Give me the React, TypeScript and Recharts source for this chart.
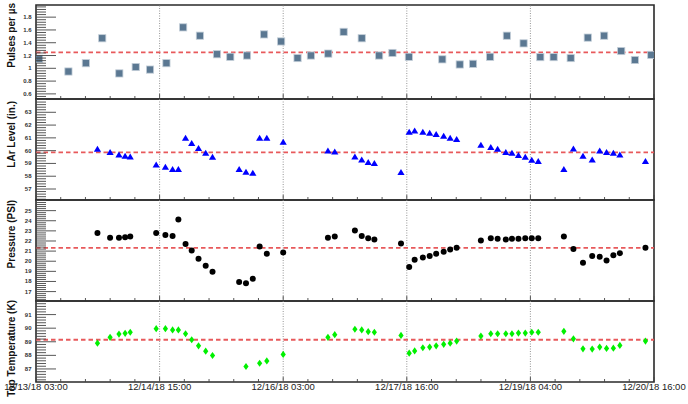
import React from 'react';
import { ScatterChart, Scatter, XAxis, YAxis, ReferenceLine, ReferenceArea } from 'recharts';

// time axis: hours since 12/13/18 03:00
const timeTicks = [0, 36.2, 72.4, 108.6, 144.8, 181];
const timeLabels = [
  '12/13/18 03:00',
  '12/14/18 15:00',
  '12/16/18 03:00',
  '12/17/18 16:00',
  '12/19/18 04:00',
  '12/20/18 16:00',
];

const pulseTimes = [
  0.9, 9.5, 14.6, 19.4, 24.4, 29.2, 33.4, 38.2, 43.1, 48.0, 53.0, 56.9, 61.8, 66.8, 71.8, 76.6, 80.5, 85.6,
  90.1, 95.4, 100.5, 104.4, 109.2, 119.0, 124.1, 128.0, 133.0, 137.9, 142.8, 147.7, 151.6, 156.6, 161.6,
  166.4, 171.4, 175.4, 180.2,
];
const pulseValues = [
  1.15, 0.95, 1.08, 1.47, 0.92, 1.02, 0.98, 1.08, 1.64, 1.51, 1.22, 1.18, 1.2, 1.53, 1.42, 1.16, 1.2, 1.23,
  1.57, 1.47, 1.2, 1.24, 1.18, 1.14, 1.06, 1.07, 1.18, 1.51, 1.39, 1.175, 1.175, 1.16, 1.48, 1.51, 1.27,
  1.13, 1.21,
];

// slow control readings (LAr level, pressure, temperature share timestamps)
const slowTimes = [
  18.0, 21.7, 24.3, 26.1, 27.6, 35.2, 37.9, 40.0, 41.7, 43.8, 45.6, 47.6, 49.7, 51.7, 59.5, 61.5, 63.5,
  65.5, 67.6, 72.4, 85.5, 87.5, 93.4, 95.4, 97.3, 99.1, 106.9, 109.3, 110.9, 113.3, 115.3, 117.2, 119.4,
  121.3, 123.2, 130.3, 133.2, 135.2, 137.6, 139.4, 141.3, 143.3, 145.2, 147.1, 154.6, 157.4, 160.2, 162.9,
  165.1, 167.1, 169.1, 171.0, 178.5,
];
const larValues = [
  60.13, 59.87, 59.69, 59.59, 59.53, 58.9, 58.73, 58.55, 58.55, 60.99, 60.58, 60.19, 59.82, 59.51, 58.55,
  58.34, 58.26, 60.99, 60.99, 60.68, 60.0, 59.92, 59.53, 59.3, 59.09, 59.01, 58.31, 61.46, 61.56, 61.46,
  61.38, 61.28, 61.15, 60.99, 60.89, 60.45, 60.27, 60.13, 59.87, 59.82, 59.64, 59.51, 59.27, 59.17, 58.55,
  60.16, 59.59, 59.3, 60.0, 59.87, 59.82, 59.69, 59.17,
];
const pressureValues = [
  22.8, 22.31, 22.31, 22.38, 22.45, 22.8, 22.6, 22.5, 24.12, 21.69, 21.07, 20.24, 19.55, 18.96, 17.95,
  17.82, 18.27, 21.46, 20.74, 20.87, 22.31, 22.45, 23.04, 22.5, 22.28, 22.15, 21.76, 19.43, 20.14, 20.38,
  20.51, 20.74, 20.93, 21.17, 21.32, 22.05, 22.28, 22.21, 22.15, 22.21, 22.21, 22.28, 22.28, 22.28, 22.45,
  21.2, 19.85, 20.51, 20.44, 20.08, 20.58, 20.8, 21.32,
];
const tempValues = [
  88.9, 89.33, 89.57, 89.62, 89.7, 89.96, 89.96, 89.87, 89.87, 89.59, 89.15, 88.7, 88.31, 87.99, null,
  87.18, null, 87.42, 87.59, 88.07, 89.33, 89.52, 89.92, 89.87, 89.74, 89.7, 89.47, 88.16, 88.33, 88.56,
  88.61, 88.7, 88.81, 88.9, 89.05, 89.42, 89.59, 89.59, 89.59, 89.59, 89.64, 89.64, 89.7, 89.7, 89.77,
  89.22, 88.48, 88.46, 88.61, 88.51, 88.53, 88.73, 89.05,
];

const pulseTicks = [0.6, 0.8, 1, 1.2, 1.4, 1.6, 1.8];
const larTicks = [57, 58, 59, 60, 61, 62, 63];
const pressureTicks = [17, 18, 19, 20, 21, 22, 23, 24, 25];
const tempTicks = [87, 88, 89, 90, 91];

const pulseMean = 1.25;
const larMean = 59.87;
const pressureMean = 21.32;
const tempMean = 89.15;

const W = 688;
const LEFT = 36;
const RIGHT = 654;
const PAD = 6;
const X_MAX = 181;
const FONT = 'Liberation Sans, Arial, Helvetica, sans-serif';

const stepTicks = (min: number, max: number, step: number) => {
  const out: number[] = [];
  for (let k = Math.ceil(min / step - 1e-9); k * step <= max + 1e-9; k++) out.push(+(k * step).toFixed(6));
  return out;
};

const xAllTicks = stepTicks(0, X_MAX, timeTicks[1] / 5);

const toPoints = (times: number[], values: (number | null)[]) =>
  times.map((t, i) => ({ t, v: values[i] })).filter((p) => p.v !== null);

const makeYTick = (majors: number[]) => (props: any) => {
  const { x, y, payload } = props;
  const v = payload.value;
  const major = majors.some((m) => Math.abs(m - v) < 1e-6);
  return (
    <g>
      <line x1={x} x2={x + (major ? 20 : 10)} y1={y} y2={y} stroke="#444" strokeWidth={0.9} />
      {major && (
        <text x={x - 4.5} y={y} textAnchor="end" dominantBaseline="central" fontSize={6} fontWeight="bold" fill="#333" fontFamily={FONT}>
          {String(v)}
        </text>
      )}
    </g>
  );
};

const makeXTick = (showLabels: boolean) => (props: any) => {
  const { x, y, payload } = props;
  const idx = timeTicks.findIndex((t) => Math.abs(t - payload.value) < 1e-6);
  const major = idx >= 0;
  return (
    <g>
      <line x1={x} x2={x} y1={y} y2={y - (major ? 5 : 3)} stroke="#444" strokeWidth={0.9} />
      {showLabels && major && (
        <text x={x} y={y + 8} textAnchor="middle" fontSize={9.5} fill="#222" fontFamily={FONT}>
          {timeLabels[idx]}
        </text>
      )}
    </g>
  );
};

const Square = (p: any) => (
  <rect x={p.cx - 3.6} y={p.cy - 3.6} width={7.2} height={7.2} fill="#5b7892" stroke="#c3ced8" strokeWidth={0.8} />
);
const Triangle = (p: any) => (
  <polygon points={`${p.cx},${p.cy - 3.2} ${p.cx + 3.6},${p.cy + 2.8} ${p.cx - 3.6},${p.cy + 2.8}`} fill="#0000ff" />
);
const Dot = (p: any) => <circle cx={p.cx} cy={p.cy} r={3} fill="#000" />;
const Diamond = (p: any) => (
  <polygon points={`${p.cx},${p.cy - 3.6} ${p.cx + 2.6},${p.cy} ${p.cx},${p.cy + 3.6} ${p.cx - 2.6},${p.cy}`} fill="#00f000" />
);

interface PanelProps {
  top: number;
  bottom: number;
  data: { t: number; v: number | null }[];
  domain: [number, number];
  majors: number[];
  minorStep: number;
  mean: number;
  shape: (p: any) => React.ReactElement;
  showTime?: boolean;
}

const Panel: React.FC<PanelProps> = ({ top, bottom, data, domain, majors, minorStep, mean, shape, showTime }) => {
  const mb = showTime ? 22 : PAD;
  const height = bottom - top + PAD + mb;
  return (
    <div style={{ position: 'absolute', left: 0, top: top - PAD }}>
      <ScatterChart width={W} height={height} margin={{ top: PAD, right: W - RIGHT, bottom: mb - 1, left: LEFT - 1 }}>
        <XAxis
          type="number"
          dataKey="t"
          domain={[0, X_MAX]}
          allowDataOverflow
          ticks={xAllTicks}
          interval={0}
          height={1}
          axisLine={false}
          tickLine={false}
          tickSize={0}
          tickMargin={0}
          tick={makeXTick(!!showTime)}
        />
        <YAxis
          type="number"
          dataKey="v"
          domain={domain}
          allowDataOverflow
          ticks={stepTicks(domain[0], domain[1], minorStep)}
          interval={0}
          width={1}
          axisLine={false}
          tickLine={false}
          tickSize={0}
          tickMargin={0}
          tick={makeYTick(majors)}
        />
        {timeTicks.slice(1, -1).map((t) => (
          <ReferenceLine key={t} x={t} stroke="#8a8a8a" strokeWidth={0.9} strokeDasharray="1 1.5" />
        ))}
        <ReferenceLine y={mean} stroke="#e8595b" strokeWidth={1.8} strokeDasharray="4.5 3" />
        <ReferenceArea x1={0} x2={X_MAX} y1={domain[0]} y2={domain[1]} fill="none" stroke="#2a2a2a" strokeWidth={1.6} />
        <Scatter data={data} shape={shape} isAnimationActive={false} />
      </ScatterChart>
    </div>
  );
};

const titles = [
  { text: 'Pulses per \u00b5s', end: 3 },
  { text: 'LAr Level (in.)', end: 101 },
  { text: 'Pressure (PSI)', end: 200 },
  { text: 'Top Temperature (K)', end: 300 },
];

export default function App() {
  return (
    <div style={{ position: 'absolute', left: 0, top: 0, width: W, height: 404, background: '#fff', overflow: 'hidden' }}>
      <Panel top={5} bottom={99} data={toPoints(pulseTimes, pulseValues)} domain={[0.52, 1.99]} majors={pulseTicks} minorStep={0.04} mean={pulseMean} shape={Square} />
      <Panel top={99} bottom={200} data={toPoints(slowTimes, larValues)} domain={[56.14, 64.04]} majors={larTicks} minorStep={0.2} mean={larMean} shape={Triangle} />
      <Panel top={200} bottom={301} data={toPoints(slowTimes, pressureValues)} domain={[16.07, 26.05]} majors={pressureTicks} minorStep={0.2} mean={pressureMean} shape={Dot} />
      <Panel top={301} bottom={382} data={toPoints(slowTimes, tempValues)} domain={[86.04, 92.0]} majors={tempTicks} minorStep={0.2} mean={tempMean} shape={Diamond} showTime />
      <svg width={W} height={404} style={{ position: 'absolute', left: 0, top: 0, pointerEvents: 'none' }}>
        {titles.map((t) => (
          <text
            key={t.text}
            x={14.5}
            y={t.end}
            transform={`rotate(-90 14.5 ${t.end})`}
            textAnchor="end"
            fontSize={10}
            fontWeight="bold"
            fill="#111"
            fontFamily={FONT}
          >
            {t.text}
          </text>
        ))}
      </svg>
    </div>
  );
}
